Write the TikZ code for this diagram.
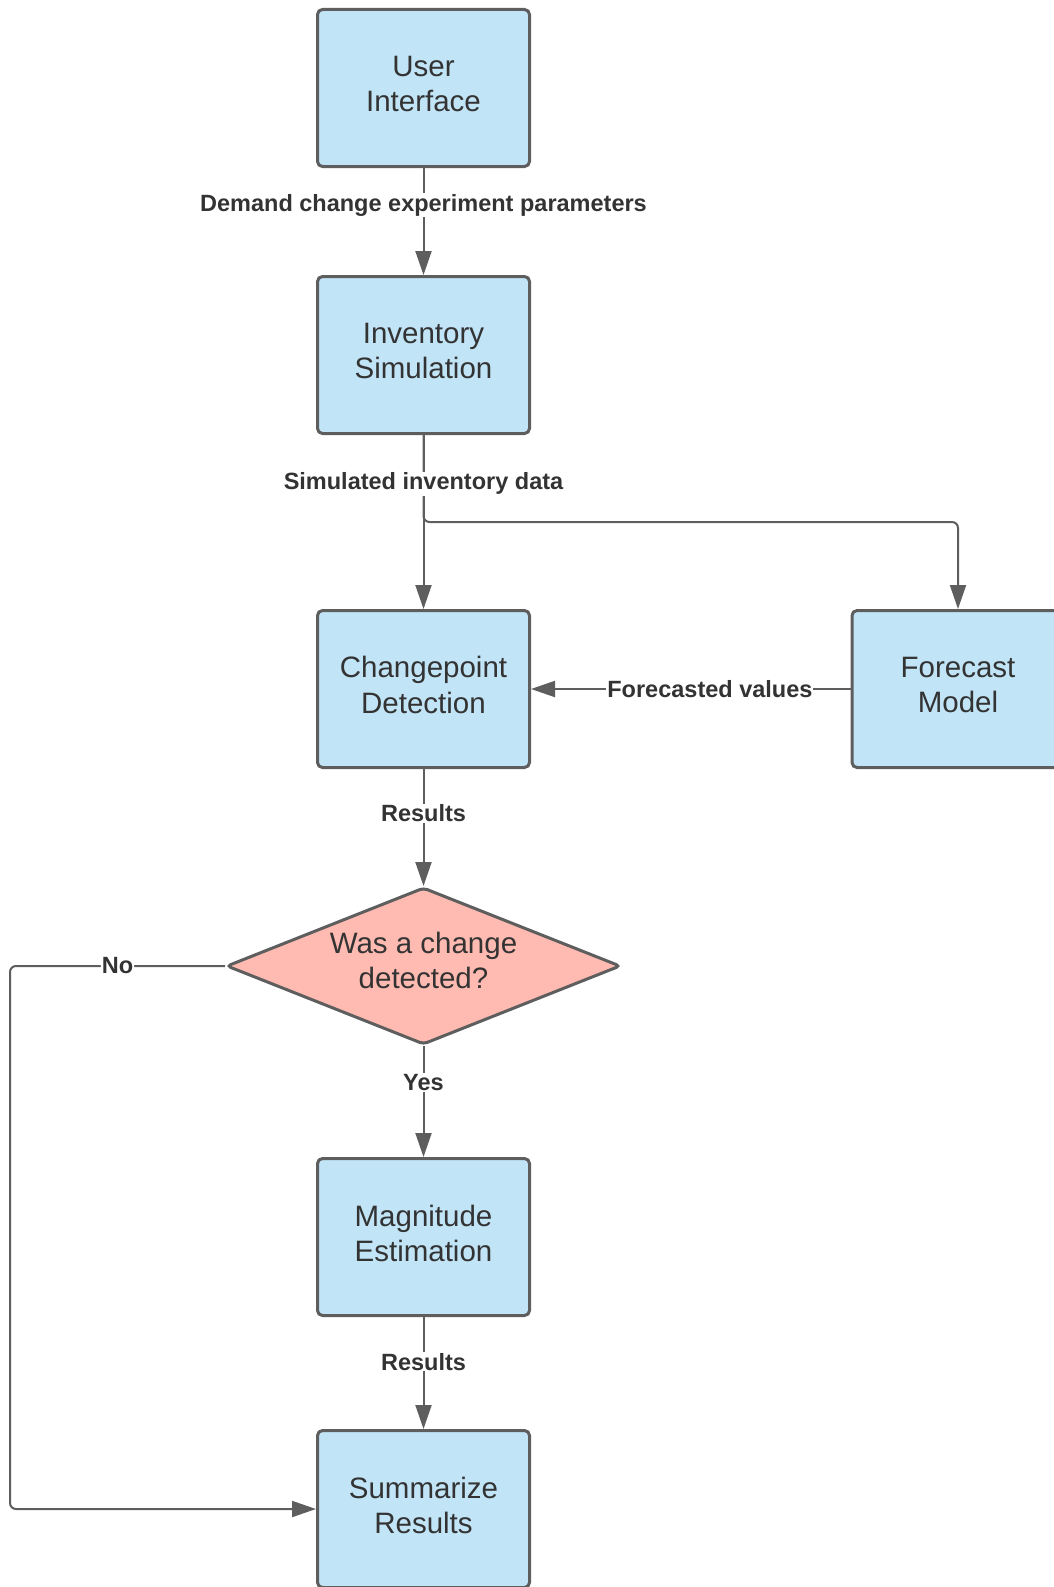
\documentclass[tikz,border=0pt]{standalone}
\usepackage{fontspec}
\setmainfont{Liberation Sans}
\usetikzlibrary{arrows.meta,shapes.geometric}
\definecolor{boxblue}{HTML}{C1E4F7}
\definecolor{decpink}{HTML}{FFBBB1}
\definecolor{linegray}{HTML}{5E5E5E}
\definecolor{textgray}{HTML}{333333}
\tikzstyle{block}=[rectangle,rounded corners=5pt,draw=linegray,line width=3pt,fill=boxblue,minimum width=212pt,minimum height=157pt,align=center,text=textgray,text depth=8pt,font=\fontsize{29.5pt}{35.4pt}\selectfont]
\tikzstyle{decision}=[block,diamond,fill=decpink,aspect=2.5,minimum width=394pt,minimum height=157pt,inner sep=0pt,text depth=11pt,rounded corners=4pt]
\tikzstyle{edge}=[draw,line width=2pt,linegray,-{Triangle[length=24pt,width=16pt]}]
\tikzstyle{elabel}=[fill=white,inner sep=1pt,text=textgray,font=\bfseries\fontsize{23.5pt}{28pt}\selectfont]

\begin{document}
\begin{tikzpicture}[x=1pt,y=-1pt]
    \useasboundingbox (0,0) rectangle (1054,1587);
    % First we draw the blocks
    \foreach \pos/\name/\txt in {{(423.5,88)/ui/{User\\Interface}}, {(423.5,355)/inv/{Inventory\\Simulation}}, {(423.5,689)/cpd/{Changepoint\\Detection}}, {(958,689)/fc/{Forecast\\Model}}, {(423.5,1237)/mag/{Magnitude\\Estimation}}, {(423.5,1509)/sum/{Summarize\\Results}}}
        \node[block] (\name) at \pos {\txt};
    \node[decision] (dec) at (423.5,966) {Was a change\\detected?};

    % Branch to the forecast model and the no-path
    \coordinate (split) at (958,522);
    \coordinate (nocorner) at (10,1509);
    \path[edge,rounded corners=6pt] (inv.south) |- (split) -- (fc.north);
    \path[edge,rounded corners=6pt] (dec.west) -| node[elabel,pos=0.25] {No} (nocorner) -- (sum.west);

    % Connect blocks with labelled edges
    \foreach \source/\dest/\lbl/\p in {ui/inv/Demand change experiment parameters/0.35, inv/cpd/Simulated inventory data/0.28, fc/cpd/Forecasted values/0.44, cpd/dec/Results/0.38, dec/mag/Yes/0.33, mag/sum/Results/0.40}
        \path[edge] (\source) -- node[elabel,pos=\p] {\lbl} (\dest);
\end{tikzpicture}
\end{document}
